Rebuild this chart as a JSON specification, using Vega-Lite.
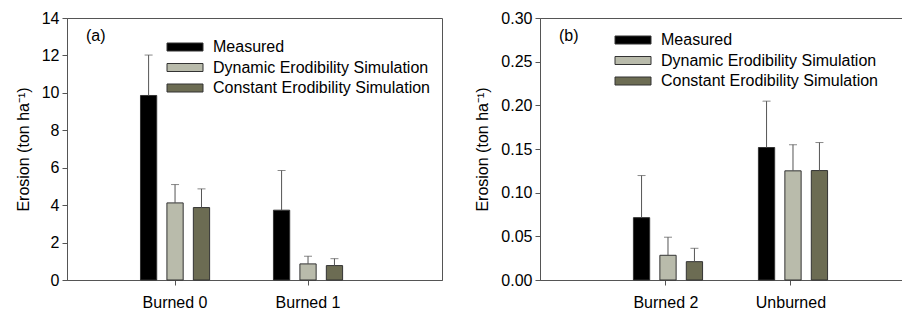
{
  "$schema": "https://vega.github.io/schema/vega-lite/v6.json",
  "padding": {"left": 14, "top": 9, "right": 0, "bottom": 0},
  "spacing": 31,
  "config": {
    "font": "Liberation Sans",
    "view": {"stroke": "#555", "strokeWidth": 1},
    "axis": {"labelFontSize": 16, "titleFontSize": 16, "titleFontWeight": "normal", "labelColor": "#000", "titleColor": "#000", "domainColor": "#555", "tickColor": "#555", "tickSize": 5, "grid": false, "labelFont": "Liberation Sans", "titleFont": "Liberation Sans", "labelOverlap": false},
    "legend": {"title": null, "orient": "none", "symbolType": "M-4.5,-1H4.5V1H-4.5Z", "symbolSize": 64, "symbolStrokeColor": "#333", "symbolStrokeWidth": 1, "symbolOpacity": 1, "labelFontSize": 16, "labelFont": "Liberation Sans", "labelColor": "#000", "labelOffset": 20, "labelLimit": 0, "rowPadding": 4.5, "padding": 0},
    "title": {"fontSize": 16, "fontWeight": "normal", "font": "Liberation Sans", "color": "#000"}
  },
  "datasets": {
    "a": [
      {"group": "Burned 0", "series": "Measured", "value": 9.86, "upper": 12.02},
      {"group": "Burned 0", "series": "Dynamic Erodibility Simulation", "value": 4.12, "upper": 5.10},
      {"group": "Burned 0", "series": "Constant Erodibility Simulation", "value": 3.87, "upper": 4.87},
      {"group": "Burned 1", "series": "Measured", "value": 3.73, "upper": 5.85},
      {"group": "Burned 1", "series": "Dynamic Erodibility Simulation", "value": 0.86, "upper": 1.27},
      {"group": "Burned 1", "series": "Constant Erodibility Simulation", "value": 0.77, "upper": 1.14}
    ],
    "b": [
      {"group": "Burned 2", "series": "Measured", "value": 0.0714, "upper": 0.1196},
      {"group": "Burned 2", "series": "Dynamic Erodibility Simulation", "value": 0.0283, "upper": 0.049},
      {"group": "Burned 2", "series": "Constant Erodibility Simulation", "value": 0.021, "upper": 0.0363},
      {"group": "Unburned", "series": "Measured", "value": 0.1517, "upper": 0.2048},
      {"group": "Unburned", "series": "Dynamic Erodibility Simulation", "value": 0.125, "upper": 0.155},
      {"group": "Unburned", "series": "Constant Erodibility Simulation", "value": 0.1253, "upper": 0.1574}
    ]
  },
  "hconcat": [
    {
      "width": 375,
      "height": 262,
      "data": {"name": "a"},
      "title": {"text": "(a)", "anchor": "start", "orient": "top", "frame": "group", "offset": -47, "dx": 19, "baseline": "alphabetic"},
      "encoding": {
        "x": {"field": "group", "type": "nominal", "scale": {"paddingInner": 0.48, "paddingOuter": 0.65, "align": 0.425}, "axis": {"title": null, "labelAngle": 0, "labelPadding": 9}},
        "xOffset": {"field": "series", "type": "nominal", "scale": {"domain": ["Measured", "Dynamic Erodibility Simulation", "Constant Erodibility Simulation"], "paddingInner": 0.385, "paddingOuter": 0}},
        "y": {"field": "value", "type": "quantitative", "scale": {"domain": [0, 14], "nice": false}, "axis": {"title": "Erosion (ton ha⁻¹)", "values": [0, 2, 4, 6, 8, 10, 12, 14], "labelPadding": 3, "titlePadding": 10}}
      },
      "layer": [
        {
          "mark": {"type": "bar", "stroke": "#333", "strokeWidth": 1},
          "encoding": {
            "color": {"field": "series", "type": "nominal", "scale": {"domain": ["Measured", "Dynamic Erodibility Simulation", "Constant Erodibility Simulation"], "range": ["#000000", "#b9bbab", "#6c6c53"]}, "legend": {"legendX": 110, "legendY": 21}}
          }
        },
        {
          "mark": {"type": "rule", "color": "#555", "strokeWidth": 1},
          "encoding": {"y2": {"field": "upper"}}
        },
        {
          "mark": {"type": "tick", "color": "#555", "size": 8, "thickness": 1},
          "encoding": {"y": {"field": "upper", "type": "quantitative"}}
        }
      ]
    },
    {
      "width": 370,
      "height": 262,
      "data": {"name": "b"},
      "title": {"text": "(b)", "anchor": "start", "orient": "top", "frame": "group", "offset": -47, "dx": 19, "baseline": "alphabetic"},
      "encoding": {
        "x": {"field": "group", "type": "nominal", "scale": {"paddingInner": 0.48, "paddingOuter": 0.72, "align": 0.519}, "axis": {"title": null, "labelAngle": 0, "labelPadding": 9}},
        "xOffset": {"field": "series", "type": "nominal", "scale": {"domain": ["Measured", "Dynamic Erodibility Simulation", "Constant Erodibility Simulation"], "paddingInner": 0.385, "paddingOuter": 0}},
        "y": {"field": "value", "type": "quantitative", "scale": {"domain": [0, 0.3], "nice": false}, "axis": {"title": "Erosion (ton ha⁻¹)", "values": [0, 0.05, 0.1, 0.15, 0.2, 0.25, 0.3], "format": ".2f", "labelPadding": 3, "titlePadding": 10}}
      },
      "layer": [
        {
          "mark": {"type": "bar", "stroke": "#333", "strokeWidth": 1},
          "encoding": {
            "color": {"field": "series", "type": "nominal", "scale": {"domain": ["Measured", "Dynamic Erodibility Simulation", "Constant Erodibility Simulation"], "range": ["#000000", "#b9bbab", "#6c6c53"]}, "legend": {"legendX": 85, "legendY": 14}}
          }
        },
        {
          "mark": {"type": "rule", "color": "#555", "strokeWidth": 1},
          "encoding": {"y2": {"field": "upper"}}
        },
        {
          "mark": {"type": "tick", "color": "#555", "size": 8, "thickness": 1},
          "encoding": {"y": {"field": "upper", "type": "quantitative"}}
        }
      ]
    }
  ],
  "resolve": {"scale": {"color": "independent"}, "legend": {"color": "independent"}}
}
